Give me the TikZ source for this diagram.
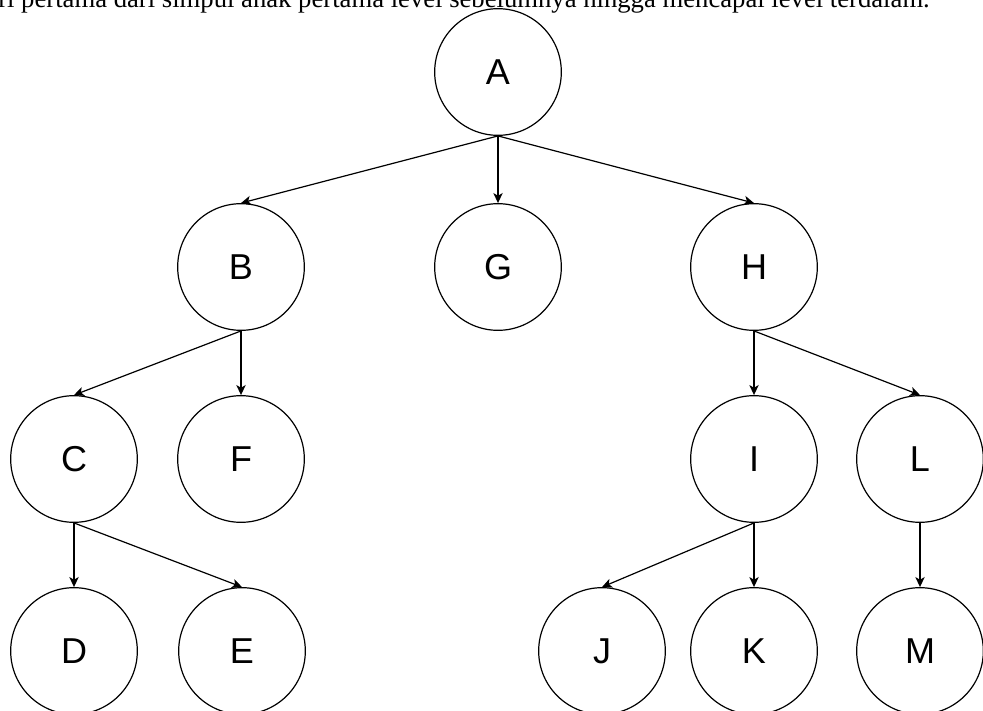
\documentclass[tikz,border=0pt]{standalone}
\usepackage{fontspec}
\setmainfont{Liberation Serif}
\newfontfamily\lblfont{Liberation Sans}
\usetikzlibrary{arrows.meta}
\begin{document}
\begin{tikzpicture}[x=0.75pt,y=-0.75pt,
  vertex/.style={circle,draw,line width=0.9pt,minimum size=95pt,inner sep=0pt,font=\lblfont\fontsize{27}{32}\selectfont},
  edge/.style={line width=0.9pt,-{Stealth[length=7.5pt,width=7pt,inset=2pt]}}]
\useasboundingbox (0,0) rectangle (983,711);
\clip (0,0) rectangle (983,711);
\fill[white] (0,0) rectangle (983,711);
\node[anchor=base west,font=\fontsize{20}{24}\selectfont,inner sep=0pt] (cap) at (-2,7) {ri pertama dari simpul anak pertama level sebelumnya hingga mencapai level terdalam.};
\node[vertex] (A) at (498,72) {A};
\node[vertex] (B) at (241,267) {B};
\node[vertex] (G) at (498,267) {G};
\node[vertex] (H) at (754,267) {H};
\node[vertex] (C) at (74,459) {C};
\node[vertex] (F) at (241,459) {F};
\node[vertex] (I) at (754,459) {I};
\node[vertex] (L) at (920,459) {L};
\node[vertex] (D) at (74,651) {D};
\node[vertex] (E) at (242,651) {E};
\node[vertex] (J) at (602,651) {J};
\node[vertex] (K) at (754,651) {K};
\node[vertex] (M) at (920,651) {M};
\draw[edge] (A.south) -- (B.north);
\draw[edge] (A.south) -- (G.north);
\draw[edge] (A.south) -- (H.north);
\draw[edge] (B.south) -- (C.north);
\draw[edge] (B.south) -- (F.north);
\draw[edge] (C.south) -- (D.north);
\draw[edge] (C.south) -- (E.north);
\draw[edge] (H.south) -- (I.north);
\draw[edge] (H.south) -- (L.north);
\draw[edge] (I.south) -- (J.north);
\draw[edge] (I.south) -- (K.north);
\draw[edge] (L.south) -- (M.north);
\end{tikzpicture}
\end{document}
